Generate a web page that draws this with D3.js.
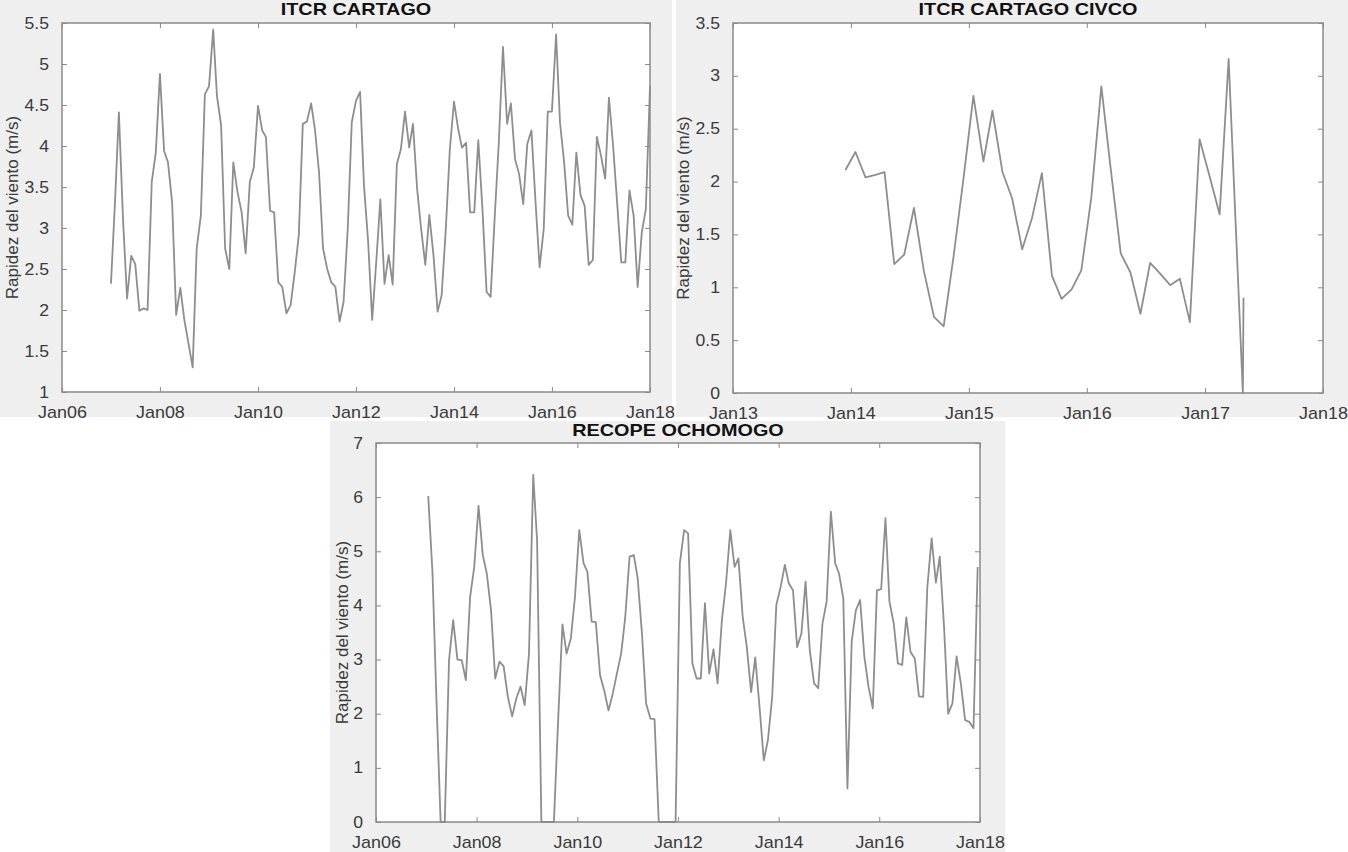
<!DOCTYPE html>
<html>
<head>
<meta charset="utf-8">
<script src="https://cdn.jsdelivr.net/npm/d3@7"></script>
<style>
html,body{margin:0;padding:0;background:#ffffff;}
svg{display:block;}
text{font-family:"Liberation Sans", Arial, Helvetica, sans-serif;}
</style>
</head>
<body>
<svg id="chart" width="1348" height="852"></svg>
<script>
// ---------- DATA ----------
// ITCR CARTAGO: monthly mean wind speed (m/s), first value Jan 2007
const cartagoStart = "2007-01-01";
const cartagoValues = [
  2.32, 3.35, 4.41, 3.10, 2.14, 2.66, 2.56, 1.99, 2.02, 2.00, 3.56, 3.92,
  4.88, 3.94, 3.80, 3.31, 1.94, 2.27, 1.88, 1.59, 1.30, 2.75, 3.15, 4.63,
  4.73, 5.42, 4.61, 4.25, 2.75, 2.50, 3.80, 3.44, 3.19, 2.69, 3.56, 3.74,
  4.49, 4.19, 4.11, 3.21, 3.19, 2.34, 2.28, 1.96, 2.06, 2.45, 2.91, 4.27,
  4.30, 4.52, 4.21, 3.68, 2.75, 2.50, 2.34, 2.28, 1.86, 2.10, 2.99, 4.29,
  4.55, 4.66, 3.52, 2.83, 1.88, 2.60, 3.35, 2.32, 2.67, 2.31, 3.78, 3.96,
  4.42, 3.98, 4.27, 3.48, 2.99, 2.55, 3.16, 2.67, 1.98, 2.18, 2.99, 3.96,
  4.54, 4.21, 3.98, 4.04, 3.19, 3.19, 4.07, 3.23, 2.22, 2.16, 3.15, 4.04,
  5.21, 4.27, 4.52, 3.84, 3.66, 3.29, 4.02, 4.19, 3.31, 2.52, 2.99, 4.42,
  4.42, 5.36, 4.29, 3.80, 3.15, 3.04, 3.92, 3.40, 3.27, 2.55, 2.61, 4.11,
  3.88, 3.60, 4.59, 4.00, 3.31, 2.58, 2.58, 3.46, 3.15, 2.28, 2.95, 3.23,
  4.73
];

// ITCR CARTAGO CIVCO: monthly values (mid-month), first value Dec 2013
const civcoStart = "2013-12-15";
const civcoValues = [
  2.11,
  2.28, 2.04, 2.06, 2.09, 1.22, 1.31, 1.75, 1.15, 0.72, 0.63, 1.30, 2.02,
  2.81, 2.19, 2.67, 2.09, 1.84, 1.36, 1.65, 2.08, 1.11, 0.89, 0.98, 1.16,
  1.85, 2.90, 2.12, 1.32, 1.14, 0.75, 1.23, 1.13, 1.02, 1.08, 0.67, 2.40,
  2.05, 1.69, 3.16
];
const civcoTailDates = ["2017-04-28", "2017-04-30"];
const civcoTailValues = [0, 0.9];

// RECOPE OCHOMOGO: monthly values (mid-month), first value Jan 2007
const ochomogoStart = "2007-01-15";
const ochomogoValues = [
  6.02, 4.60, 2.30, 0.00, 0.00, 2.99, 3.73, 3.00, 2.99, 2.62, 4.16, 4.71,
  5.84, 4.93, 4.59, 3.91, 2.65, 2.96, 2.88, 2.31, 1.95, 2.28, 2.50, 2.16,
  3.10, 6.41, 5.20, 0.00, 0.00, 0.00, 0.00, 1.90, 3.65, 3.11, 3.39, 4.16,
  5.39, 4.78, 4.62, 3.70, 3.69, 2.71, 2.43, 2.06, 2.37, 2.74, 3.11, 3.79,
  4.90, 4.93, 4.50, 3.48, 2.19, 1.91, 1.90, 0.00, 0.00, 0.00, 0.00, 0.00,
  4.78, 5.39, 5.33, 2.93, 2.65, 2.65, 4.04, 2.74, 3.19, 2.56, 3.73, 4.41,
  5.39, 4.71, 4.87, 3.79, 3.23, 2.40, 3.04, 2.13, 1.14, 1.51, 2.31, 4.01,
  4.34, 4.75, 4.41, 4.28, 3.23, 3.48, 4.44, 3.17, 2.56, 2.47, 3.67, 4.07,
  5.73, 4.78, 4.59, 4.13, 0.62, 3.33, 3.91, 4.10, 3.05, 2.50, 2.10, 4.28,
  4.30, 5.61, 4.07, 3.67, 2.93, 2.90, 3.78, 3.14, 3.02, 2.32, 2.31, 4.34,
  5.24, 4.42, 4.90, 3.61, 2.00, 2.19, 3.06, 2.56, 1.88, 1.85, 1.73, 4.71
];

// Axis ticks
const titles = ["ITCR CARTAGO", "ITCR CARTAGO CIVCO", "RECOPE OCHOMOGO"];
const yLabel = "Rapidez del viento (m/s)";
const cartagoXTicks = ["2006-01-01","2008-01-01","2010-01-01","2012-01-01","2014-01-01","2016-01-01","2018-01-01"];
const civcoXTicks = ["2013-01-01","2014-01-01","2015-01-01","2016-01-01","2017-01-01","2018-01-01"];
const ochomogoXTicks = cartagoXTicks;
const cartagoYTicks = [1, 1.5, 2, 2.5, 3, 3.5, 4, 4.5, 5, 5.5];
const civcoYTicks = [0, 0.5, 1, 1.5, 2, 2.5, 3, 3.5];
const ochomogoYTicks = [0, 1, 2, 3, 4, 5, 6, 7];

// ---------- HELPERS ----------
const parse = d3.utcParse("%Y-%m-%d");
function monthly(start, values) {
  const s = parse(start);
  return values.map((v, i) => ({date: d3.utcMonth.offset(s, i), value: v}));
}
const fmtX = d3.utcFormat("%b%y");
const fmtY = v => String(+v.toFixed(1));

const svg = d3.select("#chart");

function drawPanel(cfg) {
  const g = svg.append("g");
  g.append("rect")
    .attr("x", cfg.panel[0]).attr("y", cfg.panel[1])
    .attr("width", cfg.panel[2]).attr("height", cfg.panel[3])
    .attr("fill", "#efefef");

  const [L, T, R, B] = cfg.plot;
  const x = d3.scaleUtc().domain(cfg.xDomain.map(parse)).range([L, R]);
  const y = d3.scaleLinear().domain(cfg.yDomain).range([B, T]);

  g.append("rect")
    .attr("x", L).attr("y", T).attr("width", R - L).attr("height", B - T)
    .attr("fill", "#ffffff");

  const line = d3.line().x(d => x(d.date)).y(d => y(d.value));
  g.append("path")
    .datum(cfg.data)
    .attr("d", line)
    .attr("fill", "none")
    .attr("stroke", "#8e8e8e")
    .attr("stroke-width", 1.8)
    .attr("stroke-linejoin", "round");

  const tickLen = 5;
  const xt = cfg.xTicks.map(parse);
  const axisColor = "#8a8a8a";

  const bottomAxis = d3.axisBottom(x).tickValues(xt).tickFormat(fmtX)
    .tickSizeInner(-tickLen).tickSizeOuter(0).tickPadding(tickLen + 10);
  const gb = g.append("g").attr("transform", `translate(0,${B})`).call(bottomAxis);
  const topAxis = d3.axisTop(x).tickValues(xt).tickFormat("")
    .tickSizeInner(-tickLen).tickSizeOuter(0);
  const gt = g.append("g").attr("transform", `translate(0,${T})`).call(topAxis);

  const leftAxis = d3.axisLeft(y).tickValues(cfg.yTicks).tickFormat(fmtY)
    .tickSizeInner(-tickLen).tickSizeOuter(0).tickPadding(tickLen + 8);
  const gl = g.append("g").attr("transform", `translate(${L},0)`).call(leftAxis);
  const rightAxis = d3.axisRight(y).tickValues(cfg.yTicks).tickFormat("")
    .tickSizeInner(-tickLen).tickSizeOuter(0);
  const gr = g.append("g").attr("transform", `translate(${R},0)`).call(rightAxis);

  [gb, gt, gl, gr].forEach(a => {
    a.select(".domain").remove();
    a.selectAll(".tick line").attr("stroke", axisColor).attr("stroke-width", 1);
    a.selectAll(".tick text")
      .attr("fill", "#3a3a3a")
      .attr("font-size", 16)
      .attr("font-family", "'Liberation Sans', Arial, sans-serif");
  });
  // slight horizontal stretch, as in the reference image
  gb.selectAll(".tick text").attr("transform", "scale(1.12,1)");
  gl.selectAll(".tick text").each(function() {
    const t = d3.select(this);
    const xx = +t.attr("x");
    t.attr("x", xx / 1.1).attr("transform", "scale(1.1,1)");
  });

  g.append("rect")
    .attr("x", L).attr("y", T).attr("width", R - L).attr("height", B - T)
    .attr("fill", "none").attr("stroke", axisColor).attr("stroke-width", 1.5);

  // title (stretched horizontally)
  g.append("text")
    .attr("transform", `translate(${(L + R) / 2},${cfg.titleY}) scale(1.24,1)`)
    .attr("text-anchor", "middle")
    .attr("font-size", 16).attr("font-weight", "bold")
    .attr("fill", "#111")
    .text(cfg.title);

  g.append("text")
    .attr("transform", `translate(${cfg.yLabelX},${(T + B) / 2}) rotate(-90)`)
    .attr("text-anchor", "middle")
    .attr("dominant-baseline", "central")
    .attr("font-size", 17)
    .attr("fill", "#3a3a3a")
    .text(yLabel);
}

// ---------- PANELS ----------
drawPanel({
  panel: [0, 0, 672, 417],
  plot: [62, 23, 650, 392],
  xDomain: ["2006-01-01", "2018-01-01"],
  yDomain: [1, 5.5],
  xTicks: cartagoXTicks,
  yTicks: cartagoYTicks,
  data: monthly(cartagoStart, cartagoValues),
  title: titles[0],
  titleY: 15,
  yLabelX: 12
});

const civcoData = monthly(civcoStart, civcoValues).concat(
  civcoTailDates.map((d, i) => ({date: parse(d), value: civcoTailValues[i]}))
);
drawPanel({
  panel: [676, 0, 672, 417],
  plot: [733, 23, 1323, 393],
  xDomain: ["2013-01-01", "2018-01-01"],
  yDomain: [0, 3.5],
  xTicks: civcoXTicks,
  yTicks: civcoYTicks,
  data: civcoData,
  title: titles[1],
  titleY: 15,
  yLabelX: 683
});

drawPanel({
  panel: [330, 421, 675, 431],
  plot: [376, 443, 980, 822],
  xDomain: ["2006-01-01", "2018-01-01"],
  yDomain: [0, 7],
  xTicks: ochomogoXTicks,
  yTicks: ochomogoYTicks,
  data: monthly(ochomogoStart, ochomogoValues),
  title: titles[2],
  titleY: 436,
  yLabelX: 342
});
</script>
</body>
</html>
